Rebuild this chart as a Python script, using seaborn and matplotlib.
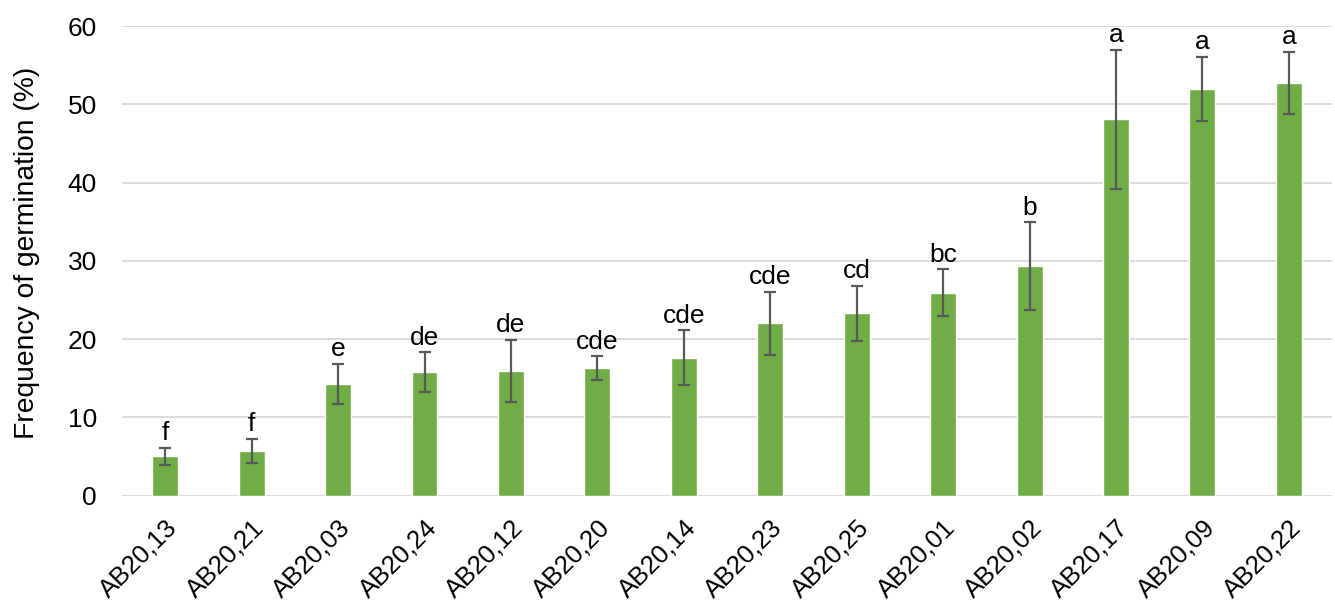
import matplotlib
matplotlib.use("Agg")
import matplotlib.pyplot as plt
import seaborn as sns
import pandas as pd

# Germination frequency per line (mean ± error) and significance groups
lines = ["AB20,13", "AB20,21", "AB20,03", "AB20,24", "AB20,12", "AB20,20", "AB20,14",
         "AB20,23", "AB20,25", "AB20,01", "AB20,02", "AB20,17", "AB20,09", "AB20,22"]
germination = [5.0, 5.7, 14.3, 15.8, 15.9, 16.3, 17.6, 22.0, 23.3, 25.9, 29.3, 48.1, 52.0, 52.7]
error = [1.05, 1.5, 2.55, 2.5, 4.0, 1.5, 3.5, 4.0, 3.5, 3.0, 5.6, 8.9, 4.1, 4.0]
groups = ["f", "f", "e", "de", "de", "cde", "cde", "cde", "cd", "bc", "b", "a", "a", "a"]
y_ticks = [0, 10, 20, 30, 40, 50, 60]

df = pd.DataFrame({"line": lines, "germination": germination, "error": error, "group": groups})

sns.set_theme(style="white")
plt.rcParams["font.family"] = ["Liberation Sans", "DejaVu Sans"]

fig = plt.figure(figsize=(13.35, 6), dpi=100)
ax = fig.add_axes([0.0914, 0.174, 0.9064, 0.7826])

sns.barplot(data=df, x="line", y="germination", color="#70AD47", width=0.30,
            saturation=1, errorbar=None, ax=ax, zorder=2)

pos = range(len(lines))
ax.errorbar(pos, df["germination"], yerr=df["error"], fmt="none",
            ecolor="#595959", elinewidth=1.6, capsize=4.5, capthick=1.6, zorder=3)

for x, m, e, g in zip(pos, df["germination"], df["error"], df["group"]):
    ax.annotate(g, (x, m + e), xytext=(0, 2), textcoords="offset points",
                ha="center", va="bottom", fontsize=19, color="black")

ax.set_ylim(0, 60)
ax.set_xlim(-0.5, len(lines) - 0.5)
ax.set_yticks(y_ticks)
ax.yaxis.grid(True, color="#D9D9D9", linewidth=1.3, zorder=0)
ax.set_axisbelow(True)
for s in ax.spines.values():
    s.set_visible(False)

ax.tick_params(axis="y", length=0, pad=18, labelsize=19, labelcolor="black")
ax.tick_params(axis="x", length=0, pad=14, labelsize=18.5, labelcolor="black")
plt.setp(ax.get_xticklabels(), rotation=45, ha="right", rotation_mode="anchor")

ax.set_xlabel("")
ax.set_ylabel("Frequency of germination (%)", fontsize=20.3, color="black", labelpad=20)
ax.yaxis.label.set_y(0.517)

fig.savefig("out.png", dpi=100)
